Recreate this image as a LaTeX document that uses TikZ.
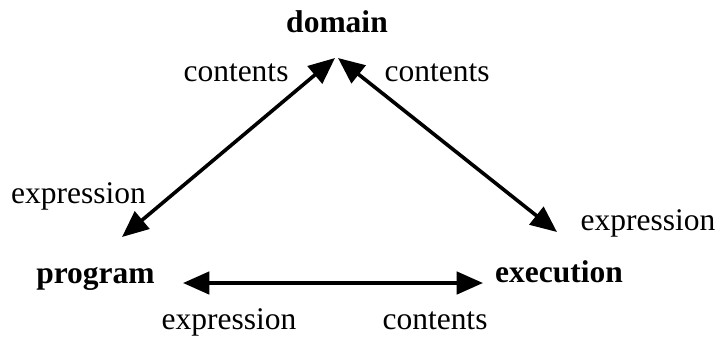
\documentclass[tikz,border=0pt]{standalone}
\usepackage{fontspec}
\setmainfont{Liberation Serif}
\usetikzlibrary{arrows.meta}
\tikzset{
  lbl/.style={inner sep=0pt,anchor=base,node font={\fontsize{22.4}{27}\selectfont}},
  corner/.style={lbl,font=\bfseries},
  link/.style={line width=0.09cm,{Triangle[length=0.66cm,width=0.56cm]}-{Triangle[length=0.66cm,width=0.56cm]}}
}
\begin{document}
\begin{tikzpicture}[x=0.025cm,y=-0.025cm]
                \useasboundingbox (0,0) rectangle (720,336);
                % Corners
                \node[corner] (domain)    at (337,32)  {domain};
                \node[corner] (program)   at (95.5,283) {program};
                \node[corner] (execution) at (559,282) {execution};
                % arrow ends
                \coordinate (dom-l)  at (335,58);
                \coordinate (dom-r)  at (338,58);
                \coordinate (prog-t) at (122,237);
                \coordinate (exec-t) at (557,232);
                \coordinate (prog-r) at (183,283);
                \coordinate (exec-l) at (483,283);
                % Links
                \draw[link] (prog-t) -- (dom-l);
                \draw[link] (exec-t) -- (dom-r);
                \draw[link] (prog-r) -- (exec-l);
                % Labels
                \node[lbl] (dom-c1)  at (236,81)  {contents};
                \node[lbl] (dom-c2)  at (437,81)  {contents};
                \node[lbl] (prog-e1) at (78.5,203) {expression};
                \node[lbl] (exec-e1) at (648,230) {expression};
                \node[lbl] (prog-e2) at (229,329) {expression};
                \node[lbl] (exec-c2) at (435,329) {contents};
            \end{tikzpicture}
\end{document}
